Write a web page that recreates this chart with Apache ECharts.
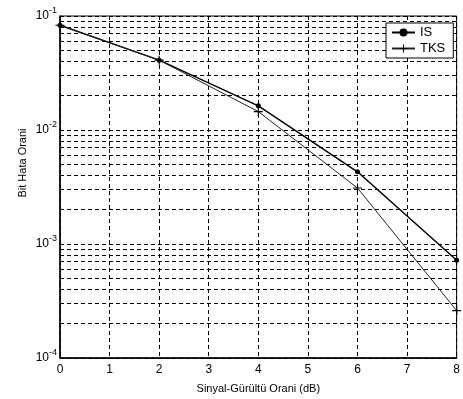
<!DOCTYPE html>
<html>
<head>
<meta charset="utf-8">
<script src="https://cdn.jsdelivr.net/npm/echarts@6/dist/echarts.min.js"></script>
<style>
  html, body { margin: 0; padding: 0; background: #fff; }
  #chart { width: 463px; height: 399px; }
</style>
</head>
<body>
<div id="chart"></div>
<script>
// SNR values (dB) and bit error rates
const snr = [0, 2, 4, 6, 8];
const isBer = [0.083, 0.041, 0.0163, 0.0043, 0.00072];
const tksBer = [0.083, 0.041, 0.0145, 0.0031, 0.00026];
const seriesNames = ['IS', 'TKS'];
// minor log grid lines (2..9 per decade)
const minorMantissa = [2, 3, 4, 5, 6, 7, 8, 9];
const decades = [1e-4, 1e-3, 1e-2];

const font = 'Liberation Sans, Arial, sans-serif';
const gridDash = { color: '#000', width: 1, type: [4, 3] };

const minorLines = [];
decades.forEach(d => minorMantissa.forEach(m => minorLines.push({ yAxis: m * d })));

const plus = 'path://M4,0h1.2v4h4v1.2h-4v4h-1.2v-4h-4v-1.2h4z';

const chart = echarts.init(document.getElementById('chart'), null, { renderer: 'canvas' });

const option = {
  animation: false,
  textStyle: { fontFamily: font, color: '#000' },
  grid: {
    left: 60, top: 16, width: 400, height: 342,
    show: true, borderColor: '#000', borderWidth: 1, backgroundColor: 'transparent'
  },
  legend: {
    left: 386, top: 23,
    orient: 'vertical',
    backgroundColor: '#fff',
    borderColor: '#000', borderWidth: 1,
    padding: [3, 8, 3, 5],
    itemGap: 3,
    itemWidth: 23, itemHeight: 10,
    textStyle: { fontFamily: font, fontSize: 13, color: '#000' },
    data: seriesNames
  },
  xAxis: {
    type: 'value',
    min: 0, max: 8, interval: 1,
    name: 'Sinyal-Gürültü Orani (dB)',
    nameLocation: 'middle', nameGap: 25,
    nameTextStyle: { fontFamily: font, fontSize: 11, color: '#000' },
    axisLine: { lineStyle: { color: '#000', width: 1.5 } },
    axisTick: { show: false },
    axisLabel: { fontFamily: font, fontSize: 12, color: '#000', margin: 6 },
    splitLine: { show: true, lineStyle: gridDash }
  },
  yAxis: {
    type: 'log',
    logBase: 10,
    min: 1e-4, max: 1e-1,
    name: 'Bit Hata Orani',
    nameLocation: 'middle', nameGap: 32,
    nameMoveOverlap: false,
    nameTextStyle: { fontFamily: font, fontSize: 11, color: '#000', padding: [0, 0, 0, 48] },
    axisLine: { lineStyle: { color: '#000', width: 1.5 } },
    axisTick: { show: false },
    axisLabel: {
      margin: 3,
      formatter: v => '{b|10}{s|' + Math.round(Math.log10(v)) + '}',
      rich: {
        b: { fontFamily: font, fontSize: 12, color: '#000' },
        s: { fontFamily: font, fontSize: 9, color: '#000', padding: [0, 0, 10, 0] }
      }
    },
    splitLine: { show: true, lineStyle: gridDash }
  },
  series: [
    {
      name: seriesNames[0],
      type: 'line',
      z: 3,
      data: snr.map((x, i) => [x, isBer[i]]),
      symbol: 'circle',
      symbolSize: 5,
      lineStyle: { color: '#000', width: 1.5 },
      itemStyle: { color: '#000' },
      markLine: {
        silent: true,
        symbol: 'none',
        precision: 8,
        z: 1,
        label: { show: false },
        lineStyle: gridDash,
        emphasis: { disabled: true },
        data: minorLines
      }
    },
    {
      name: seriesNames[1],
      type: 'line',
      z: 3,
      data: snr.map((x, i) => [x, tksBer[i]]),
      symbol: plus,
      symbolSize: 9,
      lineStyle: { color: '#222', width: 1 },
      itemStyle: { color: '#000' }
    }
  ]
};

chart.setOption(option);
</script>
</body>
</html>
